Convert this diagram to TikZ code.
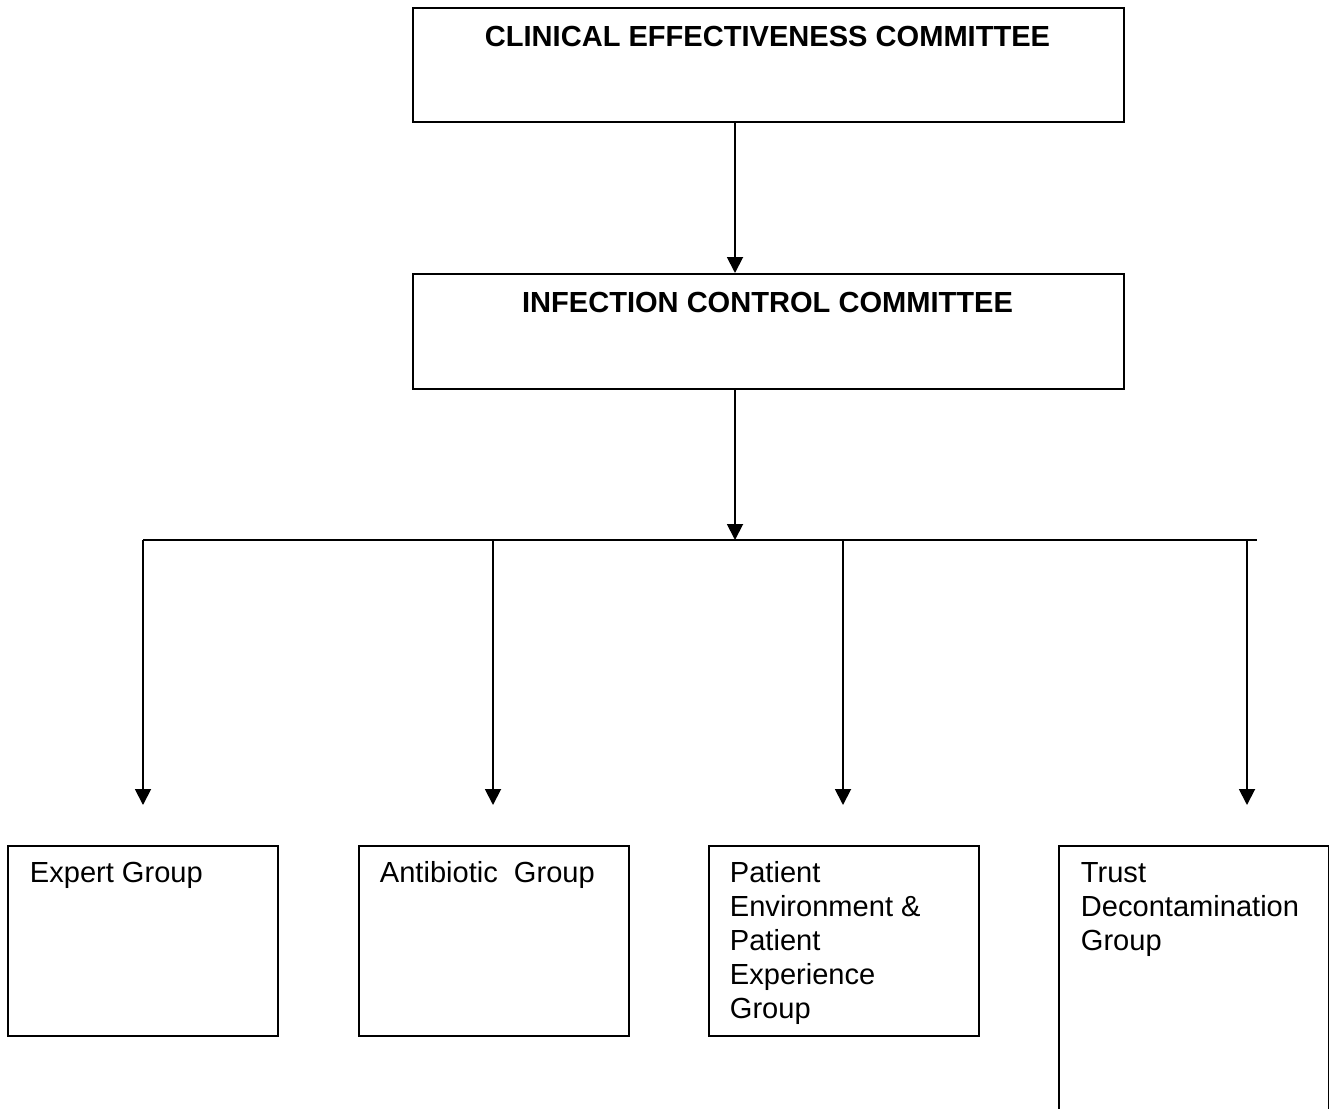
\documentclass[tikz,border=0pt]{standalone}
\usepackage{fontspec}
\setmainfont{Liberation Sans}
\usetikzlibrary{arrows.meta}
\begin{document}
\begin{tikzpicture}[x=0.75pt,y=-0.75pt,
  line width=1.4pt,
  box/.style={draw, line width=1.4pt, inner sep=0pt, anchor=north west},
  title/.style={font=\bfseries\fontsize{21.8pt}{25.5pt}\selectfont, inner sep=0pt, anchor=base},
  label/.style={font=\fontsize{21.8pt}{25.5pt}\selectfont, inner sep=0pt, anchor=base west},
  arr/.style={-{Triangle[width=12pt,length=12pt]}}]
\useasboundingbox (0,0) rectangle (1329,1108);
% top boxes
\node[box, minimum width=533.25pt, minimum height=85.5pt] (cec) at (412,7) {};
\node[title] (cect) at (767.5,46) {CLINICAL EFFECTIVENESS COMMITTEE};
\node[box, minimum width=533.25pt, minimum height=86.25pt] (icc) at (412,273) {};
\node[title] (icct) at (767.5,312) {INFECTION CONTROL COMMITTEE};
% group boxes
\node[box, minimum width=202.5pt, minimum height=142.5pt] (g1) at (7,845) {};
\node[box, minimum width=202.5pt, minimum height=142.5pt] (g2) at (358,845) {};
\node[box, minimum width=202.5pt, minimum height=142.5pt] (g3) at (708,845) {};
\node[box, minimum width=202.5pt, minimum height=210pt] (g4) at (1058,845) {};
\node[label] (t1) at (29,882) {Expert Group};
\node[label] (t2) at (379,882) {Antibiotic\ \ Group};
\node[label] (t3) at (729,882) {\begin{tabular}[t]{@{}l@{}}Patient\\Environment \&\\Patient\\Experience\\Group\end{tabular}};
\node[label] (t4) at (1080,882) {\begin{tabular}[t]{@{}l@{}}Trust\\Decontamination\\Group\end{tabular}};
% connectors
\coordinate (ax) at (735,0);
\coordinate (busL) at (143,540);
\coordinate (busM) at (735,540);
\coordinate (busR) at (1257,540);
\coordinate (b1) at (143,540);
\coordinate (b2) at (493,540);
\coordinate (b3) at (843,540);
\coordinate (b4) at (1247,540);
\coordinate (e1) at (143,805);
\coordinate (e2) at (493,805);
\coordinate (e3) at (843,805);
\coordinate (e4) at (1247,805);
\draw[arr] (cec.south -| ax) -- (icc.north -| ax);
\draw[arr] (icc.south -| ax) -- (busM);
\draw (busL) -- (busR);
\draw[arr] (b1) -- (e1);
\draw[arr] (b2) -- (e2);
\draw[arr] (b3) -- (e3);
\draw[arr] (b4) -- (e4);
\end{tikzpicture}
\end{document}
